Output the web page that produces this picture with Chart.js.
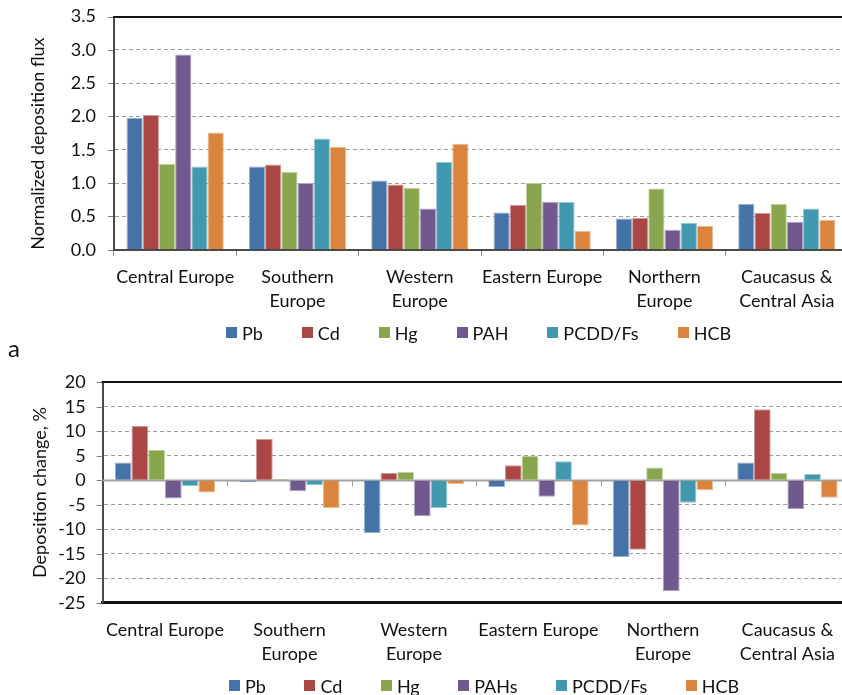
<!DOCTYPE html>
<html>
<head>
<meta charset="utf-8">
<script src="https://cdn.jsdelivr.net/npm/chart.js@4.4.1/dist/chart.umd.min.js"></script>
<style>
  html, body { margin: 0; padding: 0; background: #fff; overflow: hidden; width: 842px; height: 695px; }
  #wrap { position: relative; width: 842px; height: 695px; overflow: hidden; }
  canvas { position: absolute; left: 0; }
  #fluxChart { top: 0; }
  #changeChart { top: 360px; }
  #tag { position: absolute; left: 8px; top: 336px; font: 24px/24px Lato, "Noto Sans", sans-serif; color: #111; }
</style>
</head>
<body>
<div id="wrap">
  <canvas id="fluxChart" width="850" height="352"></canvas>
  <div id="tag">a</div>
  <canvas id="changeChart" width="850" height="345"></canvas>
</div>
<script>
// Regions shown on both category axes
const regions = [
  'Central Europe',
  ['Southern', 'Europe'],
  ['Western', 'Europe'],
  'Eastern Europe',
  ['Northern', 'Europe'],
  ['Caucasus &', 'Central Asia']
];

// Panel a: normalized deposition flux
const fluxLabels = ['Pb', 'Cd', 'Hg', 'PAH', 'PCDD/Fs', 'HCB'];
const fluxPb   = [1.98, 1.25, 1.04, 0.56, 0.47, 0.69];
const fluxCd   = [2.02, 1.28, 0.98, 0.67, 0.48, 0.55];
const fluxHg   = [1.29, 1.17, 0.93, 1.00, 0.92, 0.69];
const fluxPAH  = [2.93, 1.00, 0.62, 0.72, 0.30, 0.42];
const fluxPCDD = [1.25, 1.67, 1.32, 0.72, 0.40, 0.62];
const fluxHCB  = [1.76, 1.54, 1.59, 0.28, 0.36, 0.45];

// Panel b: deposition change, %
const changeLabels = ['Pb', 'Cd', 'Hg', 'PAHs', 'PCDD/Fs', 'HCB'];
const changePb   = [3.6, -0.4, -10.75, -1.4, -15.65, 3.6];
const changeCd   = [11.1, 8.4, 1.5, 3.05, -14.2, 14.5];
const changeHg   = [6.2, 0.27, 1.75, 4.95, 2.6, 1.5];
const changePAHs = [-3.75, -2.25, -7.35, -3.35, -22.65, -5.9];
const changePCDD = [-1.2, -1.0, -5.65, 3.9, -4.6, 1.3];
const changeHCB  = [-2.5, -5.65, -0.75, -9.25, -2.05, -3.55];

const palette = ['#4572A7', '#AA4643', '#89A54E', '#71588F', '#4198AF', '#DB843D'];
const fontFamily = 'Lato, "Noto Sans", sans-serif';

function tint(hex, f) {
  const n = parseInt(hex.slice(1), 16);
  const c = [(n >> 16) & 255, (n >> 8) & 255, n & 255].map(v => Math.round(v + (255 - v) * f));
  return 'rgb(' + c.join(',') + ')';
}

function makeSets(names, series) {
  return names.map((name, i) => ({
    label: name,
    data: series[i],
    backgroundColor: palette[i],
    borderColor: tint(palette[i], 0.45),
    borderWidth: 1
  }));
}

// Extra axis lines: solid top frame, short value ticks, zero line with category ticks
const axisExtras = {
  id: 'axisExtras',
  beforeDatasetsDraw(chart, args, o) {
    const { ctx, chartArea: a, scales: { x, y } } = chart;
    ctx.save();
    ctx.strokeStyle = o.tickColor;
    ctx.lineWidth = 1;
    y.ticks.forEach(t => {
      const py = Math.round(y.getPixelForValue(t.value)) + 0.5;
      ctx.beginPath(); ctx.moveTo(a.left - 1 - o.tickLen, py); ctx.lineTo(a.left - 1, py); ctx.stroke();
    });
    if (o.topLine) {
      const py = Math.round(y.getPixelForValue(y.max));
      ctx.strokeStyle = o.topLine.color;
      ctx.lineWidth = o.topLine.width;
      ctx.beginPath(); ctx.moveTo(a.left - 1, py); ctx.lineTo(a.right, py); ctx.stroke();
    }
    if (o.zeroLine) {
      const py = Math.round(y.getPixelForValue(0)) + 0.5;
      ctx.strokeStyle = o.zeroLine.color;
      ctx.lineWidth = o.zeroLine.width;
      ctx.beginPath(); ctx.moveTo(a.left, py); ctx.lineTo(a.right, py); ctx.stroke();
      const half = (x.getPixelForValue(1) - x.getPixelForValue(0)) / 2;
      ctx.lineWidth = 1;
      for (let i = 1; i <= regions.length; i++) {
        const px = Math.round(x.getPixelForValue(i) - half) + 0.5;
        ctx.beginPath(); ctx.moveTo(px, py); ctx.lineTo(px, py + o.zeroLine.tick); ctx.stroke();
      }
    }
    ctx.restore();
  }
};

// Single-row legend under the category labels
const legendRow = {
  id: 'legendRow',
  afterDraw(chart, args, o) {
    const { ctx, chartArea: a } = chart;
    ctx.save();
    ctx.font = o.size + 'px ' + fontFamily;
    ctx.textBaseline = 'middle';
    ctx.textAlign = 'left';
    const items = chart.data.datasets.map(d => ({ text: d.label, color: d.backgroundColor, w: ctx.measureText(d.label).width }));
    const total = items.reduce((s, it) => s + o.box + o.gap + it.w, 0) + o.spacing * (items.length - 1);
    let x = (a.left + a.right) / 2 - total / 2 + o.shift;
    const y = a.bottom + o.offset;
    items.forEach(it => {
      ctx.fillStyle = it.color;
      ctx.fillRect(Math.round(x), Math.round(y - o.box / 2), o.box, o.box);
      ctx.fillStyle = '#111';
      ctx.fillText(it.text, x + o.box + o.gap, y + 1);
      x += o.box + o.gap + it.w + o.spacing;
    });
    ctx.restore();
  }
};

function baseOptions(cfg) {
  return {
    responsive: false,
    animation: false,
    devicePixelRatio: 1,
    layout: { padding: cfg.padding },
    datasets: { bar: { barPercentage: 1, categoryPercentage: cfg.catPct } },
    plugins: {
      tooltip: { enabled: false },
      legend: { display: false },
      axisExtras: cfg.extras,
      legendRow: cfg.legend
    },
    scales: { x: cfg.x, y: cfg.y }
  };
}

function dashedGrid(skip) {
  return ctx => (skip.includes(ctx.tick && ctx.tick.value) ? 'rgba(0,0,0,0)' : '#9a9a9a');
}

function start() {
  Chart.defaults.font.family = fontFamily;
  Chart.defaults.font.size = 18;
  Chart.defaults.color = '#111';

  new Chart(document.getElementById('fluxChart'), {
    type: 'bar',
    data: {
      labels: regions,
      datasets: makeSets(fluxLabels, [fluxPb, fluxCd, fluxHg, fluxPAH, fluxPCDD, fluxHCB])
    },
    plugins: [axisExtras, legendRow],
    options: baseOptions({
      padding: { top: 16.5, right: 2, left: 0, bottom: 39.3 },
      catPct: 0.795,
      extras: { tickColor: '#7a7a7a', tickLen: 5, topLine: { color: '#111', width: 2 } },
      legend: { size: 18, box: 11, gap: 5, spacing: 39, offset: 83.2, shift: -2.5 },
      x: {
        grid: { display: true, offset: true, drawOnChartArea: false, drawTicks: true, tickLength: 6, color: '#8a8a8a' },
        border: { display: true, color: '#4a4a4a', width: 2 },
        ticks: { padding: 9, maxRotation: 0, minRotation: 0, autoSkip: false, color: '#111', font: { size: 18, lineHeight: 1.3333 } },
        afterFit: s => { s.height = 63; }
      },
      y: {
        min: 0, max: 3.5,
        grid: { color: dashedGrid([0, 3.5]), lineWidth: 1, tickLength: 18, tickWidth: 0, tickColor: 'rgba(0,0,0,0)' },
        border: { display: true, color: '#4a4a4a', width: 2, dash: [4, 3] },
        ticks: { stepSize: 0.5, padding: 0, autoSkip: false, color: '#111', callback: v => v.toFixed(1) },
        title: { display: true, text: 'Normalized deposition flux', align: 'start', color: '#111', font: { size: 18 }, padding: { top: 27.7, bottom: 0 } },
        afterFit: s => { s.width = 114; }
      }
    })
  });

  new Chart(document.getElementById('changeChart'), {
    type: 'bar',
    data: {
      labels: regions,
      datasets: makeSets(changeLabels, [changePb, changeCd, changeHg, changePAHs, changePCDD, changeHCB])
    },
    plugins: [axisExtras, legendRow],
    options: baseOptions({
      padding: { top: 22.3, right: 0, left: 0, bottom: 39.3 },
      catPct: 0.806,
      extras: { tickColor: '#7a7a7a', tickLen: 5, topLine: { color: '#111', width: 2 }, zeroLine: { color: '#a0a0a0', width: 2, tick: 6 } },
      legend: { size: 18, box: 11, gap: 5, spacing: 38.5, offset: 83.1, shift: 8 },
      x: {
        grid: { display: false, drawTicks: false },
        border: { display: true, color: '#111', width: 3 },
        ticks: { padding: 15, maxRotation: 0, minRotation: 0, autoSkip: false, color: '#111', font: { size: 18, lineHeight: 1.3333 } },
        afterFit: s => { s.height = 63; }
      },
      y: {
        min: -25, max: 20,
        grid: { color: dashedGrid([0, 20, -25]), lineWidth: 1, tickLength: 17, tickWidth: 0, tickColor: 'rgba(0,0,0,0)' },
        border: { display: true, color: '#4a4a4a', width: 2, dash: [4, 3] },
        ticks: { stepSize: 5, padding: 0, autoSkip: false, color: '#111' },
        title: { display: true, text: 'Deposition change, %', color: '#111', font: { size: 18 }, padding: { top: 29, bottom: 0 } },
        afterFit: s => { s.width = 102.7; }
      }
    })
  });
}

if (document.fonts && document.fonts.load) {
  document.fonts.load('18px Lato').then(start, start);
} else {
  start();
}
</script>
</body>
</html>
